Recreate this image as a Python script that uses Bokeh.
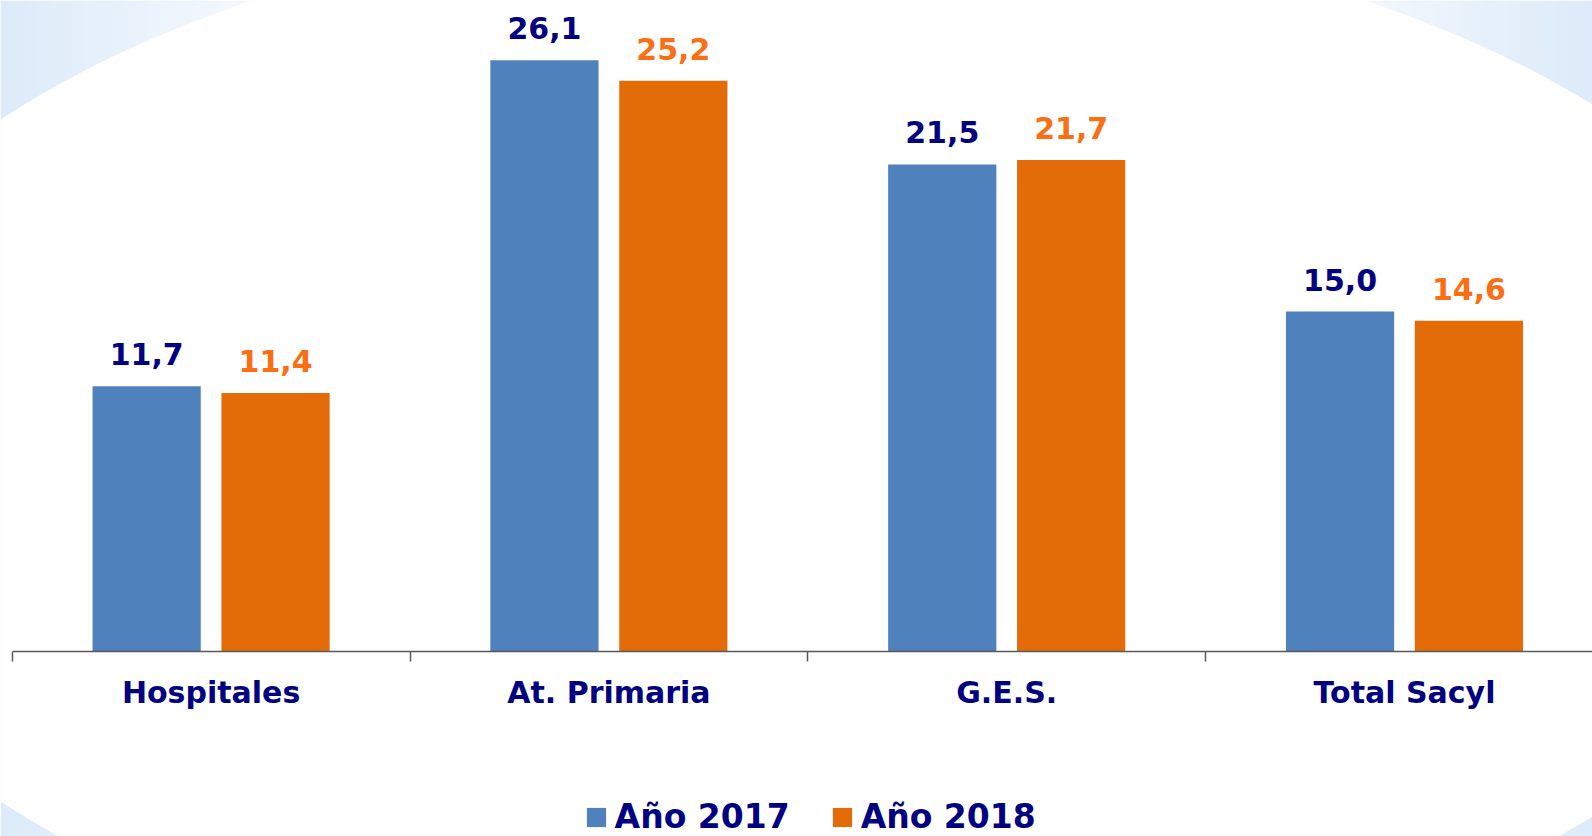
from bokeh.plotting import figure
from bokeh.models import Range1d, FixedTicker, Legend, LegendItem, ColumnDataSource
from bokeh.core.properties import value
from bokeh.transform import dodge
from bokeh.embed import file_html
from bokeh.resources import INLINE

# ---- data ----
categories = ["Hospitales", "At. Primaria", "G.E.S.", "Total Sacyl"]
series_names = ["Año 2017", "Año 2018"]
values_2017 = [11.7, 26.1, 21.5, 15.0]
values_2018 = [11.4, 25.2, 21.7, 14.6]

# ---- layout constants ----
W, H = 1592, 836
PX_PER_CAT = 397.8
PX_PER_UNIT = 22.64
X0_PX = 11.7     # screen x of category boundary 0
Y0_PX = 650.7    # screen y of value 0 (from top)

x_start = -X0_PX / PX_PER_CAT
x_end = (W - X0_PX) / PX_PER_CAT
y_end = Y0_PX / PX_PER_UNIT
y_start = -(H - Y0_PX) / PX_PER_UNIT

NAVY = "#000080"
BLUE = "#4F81BD"
ORANGE = "#E36C09"
ORANGE_TXT = "#FA6E14"
FONT = value("DejaVu Sans")


def px_x(px):
    return x_start + px / PX_PER_CAT


def px_y(py):
    return y_end - py / PX_PER_UNIT


p = figure(width=W, height=H, x_range=Range1d(x_start, x_end), y_range=Range1d(y_start, y_end),
           output_backend="svg", toolbar_location=None, y_axis_location=None,
           min_border=0, outline_line_color=None,
           background_fill_color="white", border_fill_color="white")
p.grid.grid_line_color = None

# ---- background decoration: light blue horizontal gradient behind a white ellipse ----
base = (221, 235, 250)
n = 30
step = 365 / n
lefts, rights, cols = [], [], []
for i in range(n):
    a, b = i * step, (i + 1) * step + 1
    t = (i + 0.5) / n
    c = tuple(int(base[k] + (255 - base[k]) * t) for k in range(3))
    lefts.append(px_x(a)); rights.append(px_x(b)); cols.append("#%02x%02x%02x" % c)
for i in range(n):
    a, b = W - (i + 1) * step - 1, W - i * step
    t = (i + 0.5) / n
    c = tuple(int(base[k] + (255 - base[k]) * t) for k in range(3))
    lefts.append(px_x(a)); rights.append(px_x(b)); cols.append("#%02x%02x%02x" % c)
p.quad(left=lefts, right=rights, top=y_end, bottom=y_start, fill_color=cols, line_color=None)
p.ellipse(x=[px_x(808)], y=[px_y(460)], width=2070, height=1091,
          width_units="screen", height_units="screen", fill_color="white", line_color=None)

# ---- bars ----
src = ColumnDataSource(dict(
    pos=[i + 0.5 for i in range(len(categories))],
    v17=values_2017, v18=values_2018,
    l17=[f"{v:.1f}".replace(".", ",") for v in values_2017],
    l18=[f"{v:.1f}".replace(".", ",") for v in values_2018],
))
OFF = 0.162
BW = 0.272
r1 = p.vbar(x=dodge("pos", -OFF), top="v17", width=BW, source=src, fill_color=BLUE, line_color=None)
r2 = p.vbar(x=dodge("pos", OFF), top="v18", width=BW, source=src, fill_color=ORANGE, line_color=None)

p.text(x=dodge("pos", -OFF), y="v17", text="l17", source=src, text_align="center",
       text_baseline="alphabetic", y_offset=-32, text_font=FONT, text_font_style="bold",
       text_font_size="30px", text_color=NAVY)
p.text(x=dodge("pos", OFF), y="v18", text="l18", source=src, text_align="center",
       text_baseline="alphabetic", y_offset=-32, text_font=FONT, text_font_style="bold",
       text_font_size="30px", text_color=ORANGE_TXT)

# ---- x axis ----
ax = p.xaxis[0]
ax.fixed_location = 0
ax.bounds = (0, x_end)
ax.ticker = FixedTicker(ticks=[i + 0.5 for i in range(len(categories))],
                        minor_ticks=list(range(len(categories) + 1)))
ax.major_label_overrides = {i + 0.5: c for i, c in enumerate(categories)}
ax.axis_line_color = "#595959"
ax.axis_line_width = 1.5
ax.major_tick_line_color = None
ax.major_tick_out = 0
ax.major_tick_in = 0
ax.minor_tick_line_color = "#595959"
ax.minor_tick_line_width = 1.5
ax.minor_tick_out = 10
ax.minor_tick_in = 0
ax.major_label_text_font = "DejaVu Sans"
ax.major_label_text_font_style = "bold"
ax.major_label_text_font_size = "30px"
ax.major_label_text_color = NAVY
ax.major_label_standoff = 14

# ---- legend ----
legend = Legend(items=[LegendItem(label=series_names[0], renderers=[r1]),
                       LegendItem(label=series_names[1], renderers=[r2])],
                orientation="horizontal", location=(583.6, 0),
                background_fill_alpha=0, border_line_color=None, padding=0, margin=0,
                spacing=40, glyph_width=24, glyph_height=24, label_standoff=7,
                label_text_font="DejaVu Sans", label_text_font_style="bold",
                label_text_font_size="33px", label_text_color=NAVY)
p.add_layout(legend, "center")

open("out.html", "w").write(file_html(p, INLINE))
